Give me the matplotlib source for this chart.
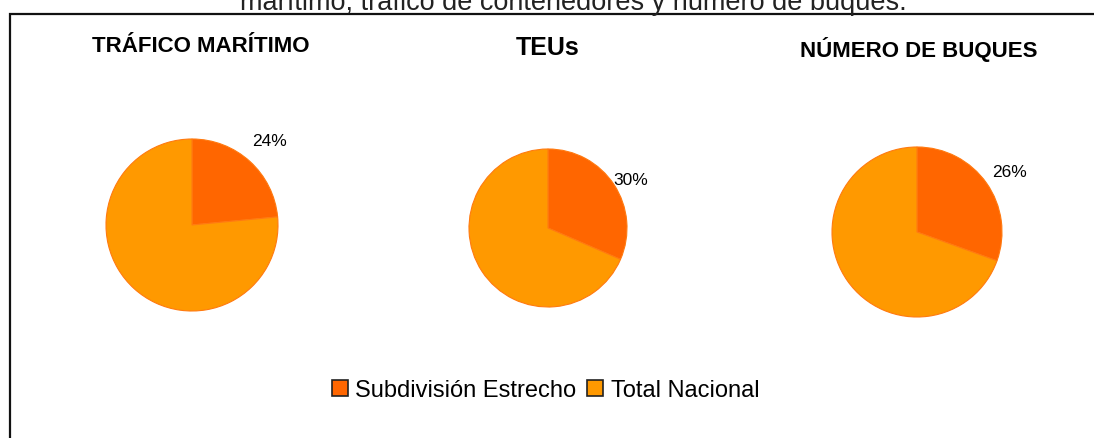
import matplotlib.pyplot as plt
from matplotlib.patches import Rectangle
from matplotlib.lines import Line2D

plt.rcParams['font.family'] = ['Liberation Sans', 'DejaVu Sans']

# data
titles = ['TRÁFICO MARÍTIMO', 'TEUs', 'NÚMERO DE BUQUES']
estrecho_share = [23.5, 31.5, 30.5]
pct_labels = ['24%', '30%', '26%']
series_names = ['Subdivisión Estrecho', 'Total Nacional']
colors = ['#FF6600', '#FF9900']

W, H = 1094, 439
fig = plt.figure(figsize=(W / 100, H / 100), dpi=100)

# pixel layout of each pie: centre x, centre y, radius
pie_px = [(192, 226, 86), (548, 229, 79), (917, 233, 85)]
title_px = [(201, 47, 16), (548, 48, 18), (919, 50, 16)]
label_off = [(0.90, 0.98), (1.05, 0.61), (1.09, 0.71)]

for i, (cx, cy, r) in enumerate(pie_px):
    ax = fig.add_axes([(cx - r) / W, (H - cy - r) / H, 2 * r / W, 2 * r / H])
    ax.pie([estrecho_share[i], 100 - estrecho_share[i]], colors=colors,
           startangle=90, counterclock=False, radius=1,
           wedgeprops=dict(edgecolor='#FF7a10', linewidth=0.8))
    ax.set_xlim(-1, 1)
    ax.set_ylim(-1, 1)
    ax.axis('off')
    dx, dy = label_off[i]
    ax.text(dx, dy, pct_labels[i], ha='center', va='center', fontsize=12.5)

    tx, ty, fs = title_px[i]
    fig.text(tx / W, 1 - ty / H, titles[i], ha='center', va='center',
             fontsize=fs, fontweight='bold')

# cropped caption at the top
fig.text(573 / W, 1 - 10 / H, 'marítimo, tráfico de contenedores y número de buques.',
         ha='center', va='baseline', fontsize=19.5, color='#222222')

# frame around the chart (cut off right and bottom)
fig.patches.append(Rectangle((10 / W, -0.1), 1.2, 1 - 15 / H + 0.1,
                             transform=fig.transFigure, fill=False,
                             edgecolor='#111111', linewidth=1.6))

handles = [Line2D([], [], marker='s', linestyle='none', markersize=11,
                  markerfacecolor=c, markeredgecolor='#222222', markeredgewidth=1.2)
           for c in colors]
fig.legend(handles, series_names, loc='center', bbox_to_anchor=(545 / W, 1 - 391 / H),
           ncol=2, frameon=False, fontsize=17, handletextpad=0.25,
           columnspacing=0.4, handlelength=0.8)

fig.savefig('out.png', dpi=100)
